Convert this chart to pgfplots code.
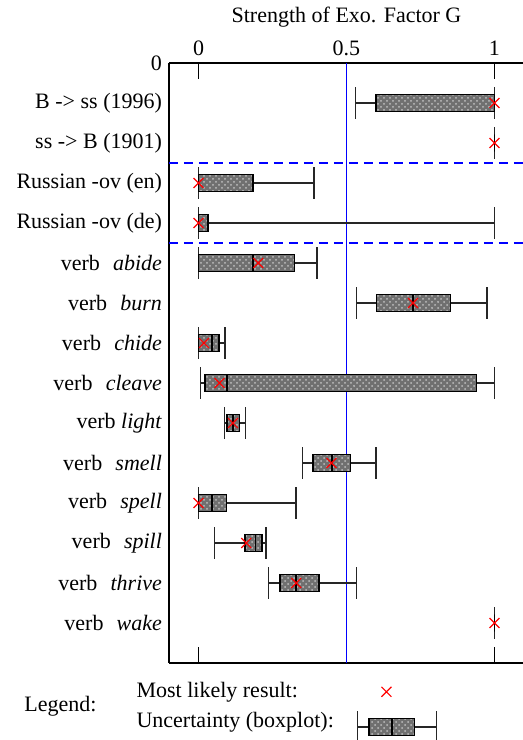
\documentclass[border=0pt]{standalone}
\usepackage{fontspec}
\setmainfont{Liberation Serif}
\usepackage{pgfplots}
\pgfplotsset{compat=1.18}
\usepgfplotslibrary{statistics}
\usetikzlibrary{patterns}

\begin{document}
\begin{tikzpicture}[font=\fontsize{11}{13}\selectfont]
\useasboundingbox (-84.5pt,-38.5pt) rectangle (177pt,331.5pt);
\begin{axis}[
  scale only axis,
  width=177.5pt,
  height=300pt,
  xmin=-0.1, xmax=1.1,
  ymin=0, ymax=15,
  y dir=reverse,
  clip=false,
  axis y line*=left,
  axis line style={line width=1pt},
  xtick={0,0.5,1},
  xticklabels={0,0.5,1},
  xticklabel pos=upper,
  xtick pos=both,
  tick align=inside,
  major tick length=8pt,
  x tick style={line width=0.7pt, black},
  xlabel={Strength of Exo. Factor G},
  ytick={0,...,14},
  yticklabels={0, B -> ss (1996), ss -> B (1901), Russian -ov (en), Russian -ov (de),
    verb\hspace{0.6em}\textit{abide}, verb\hspace{0.6em}\textit{burn}, verb\hspace{0.6em}\textit{chide},
    verb\hspace{0.6em}\textit{cleave}, verb \textit{light}, verb\hspace{0.6em}\textit{smell},
    verb\hspace{0.6em}\textit{spell}, verb\hspace{0.6em}\textit{spill}, verb\hspace{0.6em}\textit{thrive},
    verb\hspace{0.6em}\textit{wake}},
  y tick style={draw=none},
  boxplot/draw direction=x,
  boxplot/box extend=0.42,
  boxplot/whisker extend=0.78,
  boxplot/every box/.style={draw=black, line width=0.8pt, fill=black!56,
    postaction={pattern=crosshatch dots, pattern color=black!25}},
  boxplot/every whisker/.style={black!85, line width=0.75pt},
  boxplot/every median/.style={black, line width=0.8pt},
]
% reference lines
\addplot[blue, line width=0.5pt] coordinates {(0.5,0) (0.5,15)};
\addplot[blue, line width=1.2pt, dash pattern=on 4.5pt off 3pt] coordinates {(-0.1,2.5) (1.1,2.5)};
\addplot[blue, line width=1.2pt, dash pattern=on 4.5pt off 3pt] coordinates {(-0.1,4.5) (1.1,4.5)};

% boxplots
\addplot[boxplot prepared={draw position=1, lower whisker=0.531, lower quartile=0.599, median=1, upper quartile=1, upper whisker=1}] coordinates {};
\addplot[boxplot prepared={draw position=2, lower whisker=1, lower quartile=1, median=1, upper quartile=1, upper whisker=1}] coordinates {};
\addplot[boxplot prepared={draw position=3, lower whisker=0, lower quartile=0, median=0, upper quartile=0.184, upper whisker=0.39}] coordinates {};
\addplot[boxplot prepared={draw position=4, lower whisker=0, lower quartile=0, median=0, upper quartile=0.031, upper whisker=1}] coordinates {};
\addplot[boxplot prepared={draw position=5, lower whisker=0, lower quartile=0, median=0.183, upper quartile=0.324, upper whisker=0.401}] coordinates {};
\addplot[boxplot prepared={draw position=6, lower whisker=0.533, lower quartile=0.601, median=0.725, upper quartile=0.851, upper whisker=0.975}] coordinates {};
\addplot[boxplot prepared={draw position=7, lower whisker=0, lower quartile=0, median=0.045, upper quartile=0.069, upper whisker=0.09}] coordinates {};
\addplot[boxplot prepared={draw position=8, lower whisker=0.007, lower quartile=0.021, median=0.096, upper quartile=0.939, upper whisker=1}] coordinates {};
\addplot[boxplot prepared={draw position=9, lower whisker=0.087, lower quartile=0.096, median=0.116, upper quartile=0.138, upper whisker=0.159}] coordinates {};
\addplot[boxplot prepared={draw position=10, lower whisker=0.352, lower quartile=0.387, median=0.451, upper quartile=0.513, upper whisker=0.6}] coordinates {};
\addplot[boxplot prepared={draw position=11, lower whisker=0, lower quartile=0, median=0.046, upper quartile=0.094, upper whisker=0.329}] coordinates {};
\addplot[boxplot prepared={draw position=12, lower whisker=0.054, lower quartile=0.157, median=0.192, upper quartile=0.215, upper whisker=0.228}] coordinates {};
\addplot[boxplot prepared={draw position=13, lower whisker=0.236, lower quartile=0.275, median=0.329, upper quartile=0.407, upper whisker=0.533}] coordinates {};
\addplot[boxplot prepared={draw position=14, lower whisker=1, lower quartile=1, median=1, upper quartile=1, upper whisker=1}] coordinates {};

% most likely results
\addplot[only marks, mark=x, red, mark size=3.5pt, mark options={line width=0.6pt}] coordinates {
  (1,1) (1,2) (0,3) (0,4) (0.202,5) (0.725,6) (0.018,7) (0.071,8)
  (0.116,9) (0.449,10) (0,11) (0.161,12) (0.33,13) (1,14)
};

% legend
\node at (axis cs:-0.467,16.09) {Legend:};
\node[anchor=west, inner sep=0pt] at (axis cs:-0.211,15.74) {Most likely result:};
\node[anchor=west, inner sep=0pt] at (axis cs:-0.211,16.47) {Uncertainty (boxplot):};
\addplot[only marks, mark=x, red, mark size=3.5pt, mark options={line width=0.6pt}] coordinates {(0.635,15.72)};
\addplot[boxplot prepared={draw position=16.6, lower whisker=0.537, lower quartile=0.576, median=0.653, upper quartile=0.730, upper whisker=0.804}] coordinates {};
\end{axis}
\end{tikzpicture}
\end{document}
